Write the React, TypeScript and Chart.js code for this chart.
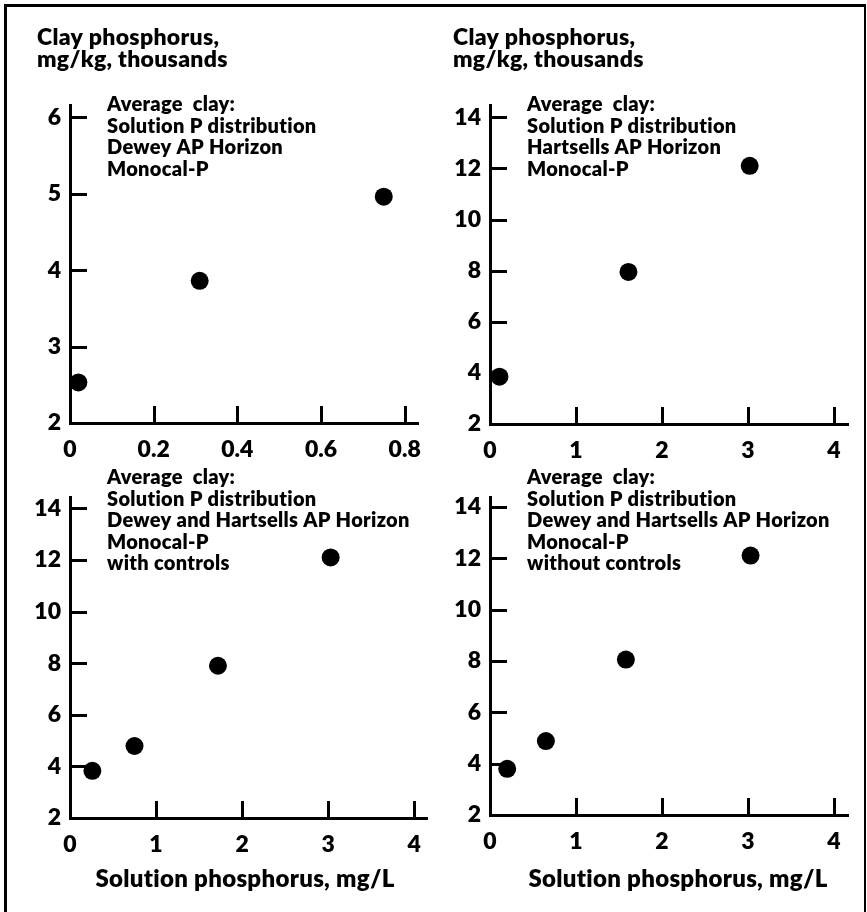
import React, { useEffect, useRef } from "react";
import { Chart, registerables } from "chart.js";

Chart.register(...registerables);

const FONT_FAMILY = "Lato, 'Noto Sans', sans-serif";
const WEIGHT = 800;

// ---------- text ----------
const yAxisTitle = ["Clay phosphorus,", "mg/kg, thousands"];
const xAxisTitle = "Solution phosphorus, mg/L";

const notesDewey = ["Average  clay:", "Solution P distribution", "Dewey AP Horizon", "Monocal-P"];
const notesHartsells = ["Average  clay:", "Solution P distribution", "Hartsells AP Horizon", "Monocal-P"];
const notesWithControls = [
  "Average  clay:",
  "Solution P distribution",
  "Dewey and Hartsells AP Horizon",
  "Monocal-P",
  "with controls",
];
const notesWithoutControls = [
  "Average  clay:",
  "Solution P distribution",
  "Dewey and Hartsells AP Horizon",
  "Monocal-P",
  "without controls",
];

// ---------- data ----------
const deweyX = [0.02, 0.31, 0.75];
const deweyY = [2.53, 3.86, 4.96];

const hartsellsX = [0.11, 1.61, 3.02];
const hartsellsY = [3.85, 7.95, 12.1];

const withControlsX = [0.26, 0.75, 1.72, 3.03];
const withControlsY = [3.83, 4.79, 7.9, 12.1];

const withoutControlsX = [0.2, 0.65, 1.58, 3.03];
const withoutControlsY = [3.8, 4.88, 8.05, 12.1];

// ---------- ticks ----------
const xTicksDewey = [0, 0.2, 0.4, 0.6, 0.8];
const xTicksWide = [0, 1, 2, 3, 4];
const yTicksDewey = [2, 3, 4, 5, 6];
const yTicksWide = [2, 4, 6, 8, 10, 12, 14];

type Box = { left: number; top: number; width: number; height: number };
type Area = { l: number; t: number; r: number; b: number };

type PanelCfg = {
  key: string;
  box: Box;
  area: Area;
  xs: number[];
  ys: number[];
  xTicks: number[];
  yTicks: number[];
  xMax: number;
  yMax: number;
  notes: string[];
  noteBaseline: number;
  titleX: number | null;
  xTitleCx: number | null;
};

const panels: PanelCfg[] = [
  {
    key: "dewey",
    box: { left: 8, top: 8, width: 426, height: 460 },
    area: { l: 70, t: 105, r: 428, b: 423 },
    xs: deweyX,
    ys: deweyY,
    xTicks: xTicksDewey,
    yTicks: yTicksDewey,
    xMax: 0.833,
    yMax: 6.16,
    notes: notesDewey,
    noteBaseline: 111,
    titleX: 37,
    xTitleCx: null,
  },
  {
    key: "hartsells",
    box: { left: 440, top: 8, width: 424, height: 460 },
    area: { l: 490, t: 105, r: 848, b: 424 },
    xs: hartsellsX,
    ys: hartsellsY,
    xTicks: xTicksWide,
    yTicks: yTicksWide,
    xMax: 4.163,
    yMax: 14.48,
    notes: notesHartsells,
    noteBaseline: 111,
    titleX: 453,
    xTitleCx: null,
  },
  {
    key: "with",
    box: { left: 8, top: 468, width: 426, height: 444 },
    area: { l: 70, t: 497, r: 428, b: 818 },
    xs: withControlsX,
    ys: withControlsY,
    xTicks: xTicksWide,
    yTicks: yTicksWide,
    xMax: 4.159,
    yMax: 14.44,
    notes: notesWithControls,
    noteBaseline: 484,
    titleX: null,
    xTitleCx: 245,
  },
  {
    key: "without",
    box: { left: 440, top: 468, width: 424, height: 444 },
    area: { l: 490, t: 497, r: 848, b: 815 },
    xs: withoutControlsX,
    ys: withoutControlsY,
    xTicks: xTicksWide,
    yTicks: yTicksWide,
    xMax: 4.163,
    yMax: 14.38,
    notes: notesWithoutControls,
    noteBaseline: 484,
    titleX: null,
    xTitleCx: 678,
  },
];

const TICK_LEN = 17;
const LINE_GAP = 21.5;

function Panel({ cfg }: { cfg: PanelCfg }) {
  const ref = useRef<HTMLCanvasElement | null>(null);

  useEffect(() => {
    if (!ref.current) return;
    const { box, area } = cfg;
    const padTop = area.t - box.top;
    const padRight = box.left + box.width - area.r;
    const yW = area.l - box.left;
    const xH = box.top + box.height - area.b;
    const px = (x: number) => x - box.left;
    const py = (y: number) => y - box.top;

    const decorPlugin = {
      id: "panelDecor",
      beforeDatasetsDraw(chart: any) {
        const ctx = chart.ctx as CanvasRenderingContext2D;
        const xs = chart.scales.x;
        const ys = chart.scales.y;
        const ca = chart.chartArea;
        ctx.save();
        ctx.strokeStyle = "#000";
        ctx.lineWidth = 3;
        ctx.beginPath();
        cfg.yTicks.forEach((v) => {
          if (v === cfg.yTicks[0]) return;
          const y = Math.round(ys.getPixelForValue(v)) + 0.5;
          ctx.moveTo(ca.left, y);
          ctx.lineTo(ca.left + TICK_LEN, y);
        });
        cfg.xTicks.forEach((v) => {
          if (v === cfg.xTicks[0]) return;
          const x = Math.round(xs.getPixelForValue(v)) + 0.5;
          ctx.moveTo(x, ca.bottom);
          ctx.lineTo(x, ca.bottom - TICK_LEN);
        });
        ctx.stroke();
        ctx.restore();
      },
      afterDraw(chart: any) {
        const ctx = chart.ctx as CanvasRenderingContext2D;
        const ca = chart.chartArea;
        ctx.save();
        ctx.fillStyle = "#000";
        ctx.textBaseline = "alphabetic";
        ctx.textAlign = "left";
        try {
          (ctx as any).letterSpacing = "0.3px";
        } catch (e) {}
        if (cfg.titleX !== null) {
          ctx.font = `${WEIGHT} 23px ${FONT_FAMILY}`;
          yAxisTitle.forEach((line, i) => {
            ctx.fillText(line, px(cfg.titleX as number), py(45 + i * 21.7));
          });
        }
        ctx.font = `${WEIGHT} 20px ${FONT_FAMILY}`;
        cfg.notes.forEach((line, i) => {
          ctx.fillText(line, ca.left + 37, py(cfg.noteBaseline + i * LINE_GAP));
        });
        if (cfg.xTitleCx !== null) {
          ctx.font = `${WEIGHT} 24px ${FONT_FAMILY}`;
          ctx.textAlign = "center";
          ctx.fillText(xAxisTitle, px(cfg.xTitleCx as number), py(887));
        }
        ctx.restore();
      },
    };

    const tickFont = { family: FONT_FAMILY, size: 23, weight: WEIGHT as any };

    const chart = new Chart(ref.current, {
      type: "scatter",
      data: {
        datasets: [
          {
            data: cfg.xs.map((x, i) => ({ x, y: cfg.ys[i] })),
            backgroundColor: "#000",
            borderColor: "#000",
            borderWidth: 0,
            pointRadius: 9,
            pointHoverRadius: 9,
            clip: false as any,
          },
        ],
      },
      options: {
        responsive: false,
        animation: false,
        events: [],
        layout: {
          autoPadding: false,
          padding: { top: padTop, right: padRight, bottom: 0, left: 0 },
        },
        plugins: {
          legend: { display: false },
          tooltip: { enabled: false },
          title: { display: false },
        },
        scales: {
          x: {
            type: "linear",
            min: 0,
            max: cfg.xMax,
            afterBuildTicks: (scale: any) => {
              scale.ticks = cfg.xTicks.map((v) => ({ value: v }));
            },
            afterFit: (scale: any) => {
              scale.height = xH;
            },
            grid: { display: true, drawOnChartArea: false, drawTicks: false },
            border: { display: true, color: "#000", width: 3 },
            ticks: {
              autoSkip: false,
              maxRotation: 0,
              padding: 13,
              color: "#000",
              font: tickFont,
              callback: (v: any) => String(v),
            },
          },
          y: {
            type: "linear",
            min: cfg.yTicks[0],
            max: cfg.yMax,
            afterBuildTicks: (scale: any) => {
              scale.ticks = cfg.yTicks.map((v) => ({ value: v }));
            },
            afterFit: (scale: any) => {
              scale.width = yW;
            },
            grid: { display: true, drawOnChartArea: false, drawTicks: false },
            border: { display: true, color: "#000", width: 3 },
            ticks: {
              autoSkip: false,
              padding: 9,
              color: "#000",
              font: tickFont,
              callback: (v: any) => String(v),
            },
          },
        },
      },
      plugins: [decorPlugin],
    });

    return () => chart.destroy();
  }, [cfg]);

  return (
    <canvas
      ref={ref}
      width={cfg.box.width}
      height={cfg.box.height}
      style={{
        position: "absolute",
        left: cfg.box.left,
        top: cfg.box.top,
        width: cfg.box.width,
        height: cfg.box.height,
      }}
    />
  );
}

export default function App() {
  return (
    <div
      style={{
        position: "absolute",
        left: 0,
        top: 0,
        width: 867,
        height: 912,
        overflow: "hidden",
        background: "#fff",
      }}
    >
      <div
        style={{
          position: "absolute",
          left: 4,
          top: 4,
          width: 862,
          height: 1000,
          boxSizing: "border-box",
          borderLeft: "3px solid #000",
          borderTop: "3px solid #000",
          borderRight: "2px solid #000",
        }}
      />
      {panels.map((p) => (
        <Panel key={p.key} cfg={p} />
      ))}
    </div>
  );
}
